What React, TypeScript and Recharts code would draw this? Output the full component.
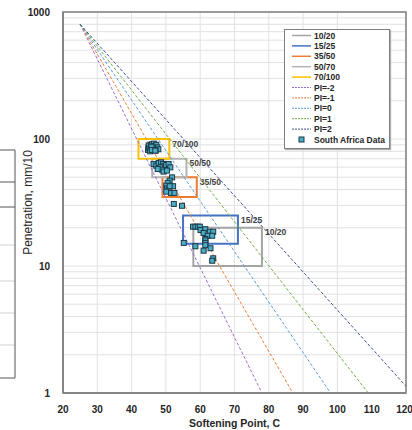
import React from 'react';
import { ComposedChart, Line, Scatter, XAxis, YAxis, CartesianGrid, ReferenceArea, Label } from 'recharts';

const X_TICKS = [20, 30, 40, 50, 60, 70, 80, 90, 100, 110, 120];
const Y_TICKS = [1, 2, 3, 4, 5, 6, 7, 8, 9, 10, 20, 30, 40, 50, 60, 70, 80, 90, 100, 200, 300, 400, 500, 600, 700, 800, 900, 1000];
const Y_LABELED = [1, 10, 100, 1000];

// Penetration grade boxes: [softening min, softening max, pen min, pen max]
const grade10_20 = [58, 78, 10, 20];
const grade15_25 = [55, 71, 15, 25];
const grade35_50 = [49, 59, 35, 50];
const grade50_70 = [46, 56, 50, 70];
const grade70_100 = [42, 51, 70, 100];

// Penetration index lines (start and end points)
const piMinus2 = [{ x: 25, y: 800 }, { x: 78, y: 1 }];
const piMinus1 = [{ x: 25, y: 800 }, { x: 87, y: 1 }];
const pi0 = [{ x: 25, y: 800 }, { x: 98, y: 1 }];
const pi1 = [{ x: 25, y: 800 }, { x: 109, y: 1 }];
const pi2 = [{ x: 25, y: 800 }, { x: 120, y: 1.13 }];

// South Africa data: softening point, penetration
const saSoftening = [
  44.8, 44.9, 45.0, 45.2, 45.4, 45.6, 46.0, 46.5, 46.8, 47.2, 47.5, 47.8, 46.2, 45.8, 47.0, 45.9, 46.9,
  46.4, 47.2, 47.9, 48.6, 49.2, 49.5, 48.4, 49.8, 48.9, 50.1, 50.8, 51.3, 47.6, 49.3, 50.3,
  51.8, 51.1, 50.5, 50.1, 50.3, 50.8, 50.1, 51.5, 52.5, 52.1, 51.1,
  52.3, 54.7,
  57.9, 58.6, 59.3, 59.9, 60.1, 61.5, 61.0, 62.8, 63.8, 62.2, 63.5, 61.5, 61.5, 61.5, 61.5,
  55.2, 58.6, 61.0, 63.0, 63.8, 63.5,
];
const saPenetration = [
  82, 86, 89, 84, 80, 90, 91, 92, 88, 90, 86, 83, 85, 87, 81, 82, 81,
  63.6, 61.6, 64.7, 65.5, 63.6, 61, 59.8, 58.7, 57.3, 62.4, 63.6, 59.8, 58, 55.4, 56.4,
  49.9, 47, 45.1, 42.9, 40.9, 39.9, 38.5, 37.6, 37.6, 42.5, 42.5,
  30.8, 29.8,
  20.4, 20.4, 20.4, 20.4, 19.2, 19.5, 18.2, 18.6, 18.6, 17.3, 17.3, 16.3, 15.9, 15.2, 14.6,
  15.2, 14.3, 13.2, 13.8, 11.5, 11.0,
];
const saData = saSoftening.map((x, i) => ({ x, y: saPenetration[i] }));

const grades = [
  { name: '10/20', label: '10/20', box: grade10_20, color: '#a5a5a5' },
  { name: '15/25', label: '15/25', box: grade15_25, color: '#4472c4' },
  { name: '35/50', label: '35/50', box: grade35_50, color: '#ed7d31' },
  { name: '50/70', label: '50/50', box: grade50_70, color: '#b4b4b4' },
  { name: '70/100', label: '70/100', box: grade70_100, color: '#ffc000' },
];

const piLines = [
  { name: 'PI=-2', data: piMinus2, color: '#9b6bd6' },
  { name: 'PI=-1', data: piMinus1, color: '#ed7d31' },
  { name: 'PI=0', data: pi0, color: '#5b9bd5' },
  { name: 'PI=1', data: pi1, color: '#70ad47' },
  { name: 'PI=2', data: pi2, color: '#3b4f8c' },
];

const FONT = '"Liberation Sans", Arial, sans-serif';

const SquareDot = (props: any) => {
  const { cx, cy } = props;
  if (cx == null || cy == null) return null;
  return <rect x={cx - 2.5} y={cy - 2.5} width={5} height={5} fill="#4bacc6" stroke="#1d3846" strokeWidth={1} />;
};

const gradeLabel = (text: string) => (props: any) => {
  const vb = props.viewBox || {};
  return (
    <text x={vb.x + vb.width + 3} y={vb.y + 4.5} dominantBaseline="central" fontFamily={FONT} fontWeight="bold" fontSize={8.5} fill="#404040">
      {text}
    </text>
  );
};

const LegendBox = () => {
  const rows = [
    ...grades.map((g) => ({ name: g.name, color: g.color, kind: 'solid' })),
    ...piLines.map((p) => ({ name: p.name, color: p.color, kind: 'dash' })),
    { name: 'South Africa Data', color: '#4bacc6', kind: 'square' },
  ];
  return (
    <div style={{ position: 'absolute', left: 284, top: 29, width: 104, height: 118, border: '1px solid #7f7f7f', background: '#fff', boxShadow: '1px 1px 1px #b0b0b0' }}>
      <svg width={104} height={118}>
        {rows.map((r, i) => {
          const y = 5.5 + i * 10.4;
          return (
            <g key={r.name}>
              {r.kind === 'square' ? (
                <rect x={14} y={y - 2.5} width={5} height={5} fill="#4bacc6" stroke="#1d3846" strokeWidth={1} />
              ) : (
                <line x1={7} x2={26} y1={y} y2={y} stroke={r.color} strokeWidth={r.kind === 'solid' ? 1.5 : 1} strokeDasharray={r.kind === 'dash' ? '2 1' : undefined} />
              )}
              <text x={29} y={y} dominantBaseline="central" fontFamily={FONT} fontWeight="bold" fontSize={8.5} fill="#262626">
                {r.name}
              </text>
            </g>
          );
        })}
      </svg>
    </div>
  );
};

const LeftArtifact = () => {
  const dark = [150, 182, 207, 378];
  const light = [245, 281, 313, 345];
  return (
    <svg style={{ position: 'absolute', left: 0, top: 0 }} width={20} height={430}>
      {light.map((y) => <line key={'l' + y} x1={0} x2={15} y1={y} y2={y} stroke="#d0d0d0" strokeWidth={1} />)}
      {dark.map((y) => <line key={'d' + y} x1={0} x2={15} y1={y} y2={y} stroke="#555" strokeWidth={1} />)}
      <line x1={15} x2={15} y1={150} y2={378} stroke="#555" strokeWidth={1} />
    </svg>
  );
};

export default function App() {
  return (
    <div style={{ position: 'absolute', left: 0, top: 0, width: 412, height: 430, background: '#fff', overflow: 'hidden' }}>
      <LeftArtifact />
      <ComposedChart width={412} height={430} margin={{ top: 12, right: 6, bottom: 0, left: 0 }} style={{ position: 'absolute', left: 0, top: 0 }}>
        <CartesianGrid stroke="#e2e2e2" strokeWidth={1} />
        <XAxis
          type="number"
          dataKey="x"
          domain={[20, 120]}
          ticks={X_TICKS}
          allowDataOverflow
          height={37}
          tickLine={false}
          tickMargin={7}
          axisLine={{ stroke: '#7f7f7f', strokeWidth: 1.5 }}
          tick={{ fontFamily: FONT, fontWeight: 'bold', fontSize: 10, fill: '#262626' }}
        >
          <Label value="Softening Point, C" position="insideBottom" offset={3} style={{ fontFamily: FONT, fontWeight: 'bold', fontSize: 10.5, fill: '#262626' }} />
        </XAxis>
        <YAxis
          type="number"
          dataKey="y"
          scale="log"
          domain={[1, 1000]}
          ticks={Y_TICKS}
          allowDataOverflow
          width={63}
          tickLine={false}
          tickMargin={7}
          interval={0}
          tickFormatter={(v: number) => (Y_LABELED.includes(v) ? String(v) : '')}
          axisLine={{ stroke: '#7f7f7f', strokeWidth: 1.5 }}
          tick={{ fontFamily: FONT, fontWeight: 'bold', fontSize: 10, fill: '#262626' }}
        >
          <Label value="Penetration, mm/10" angle={-90} position="center" dx={-4} style={{ fontFamily: FONT, fontSize: 12, fill: '#262626', textAnchor: 'middle' }} />
        </YAxis>
        <ReferenceArea x1={20} x2={120} y1={1} y2={1000} fill="none" stroke="#7f7f7f" strokeWidth={1.5} ifOverflow="visible" />
        {piLines.map((p) => (
          <Line key={p.name} data={p.data} dataKey="y" type="linear" stroke={p.color} strokeWidth={1} strokeDasharray="3 2" dot={false} isAnimationActive={false} />
        ))}
        {grades.map((g) => (
          <ReferenceArea key={g.name} x1={g.box[0]} x2={g.box[1]} y1={g.box[2]} y2={g.box[3]} fill="none" fillOpacity={0} stroke={g.color} strokeWidth={2} ifOverflow="visible">
            <Label content={gradeLabel(g.label)} />
          </ReferenceArea>
        ))}
        <Scatter data={saData} dataKey="y" shape={SquareDot} isAnimationActive={false} />
      </ComposedChart>
      <LegendBox />
    </div>
  );
}
